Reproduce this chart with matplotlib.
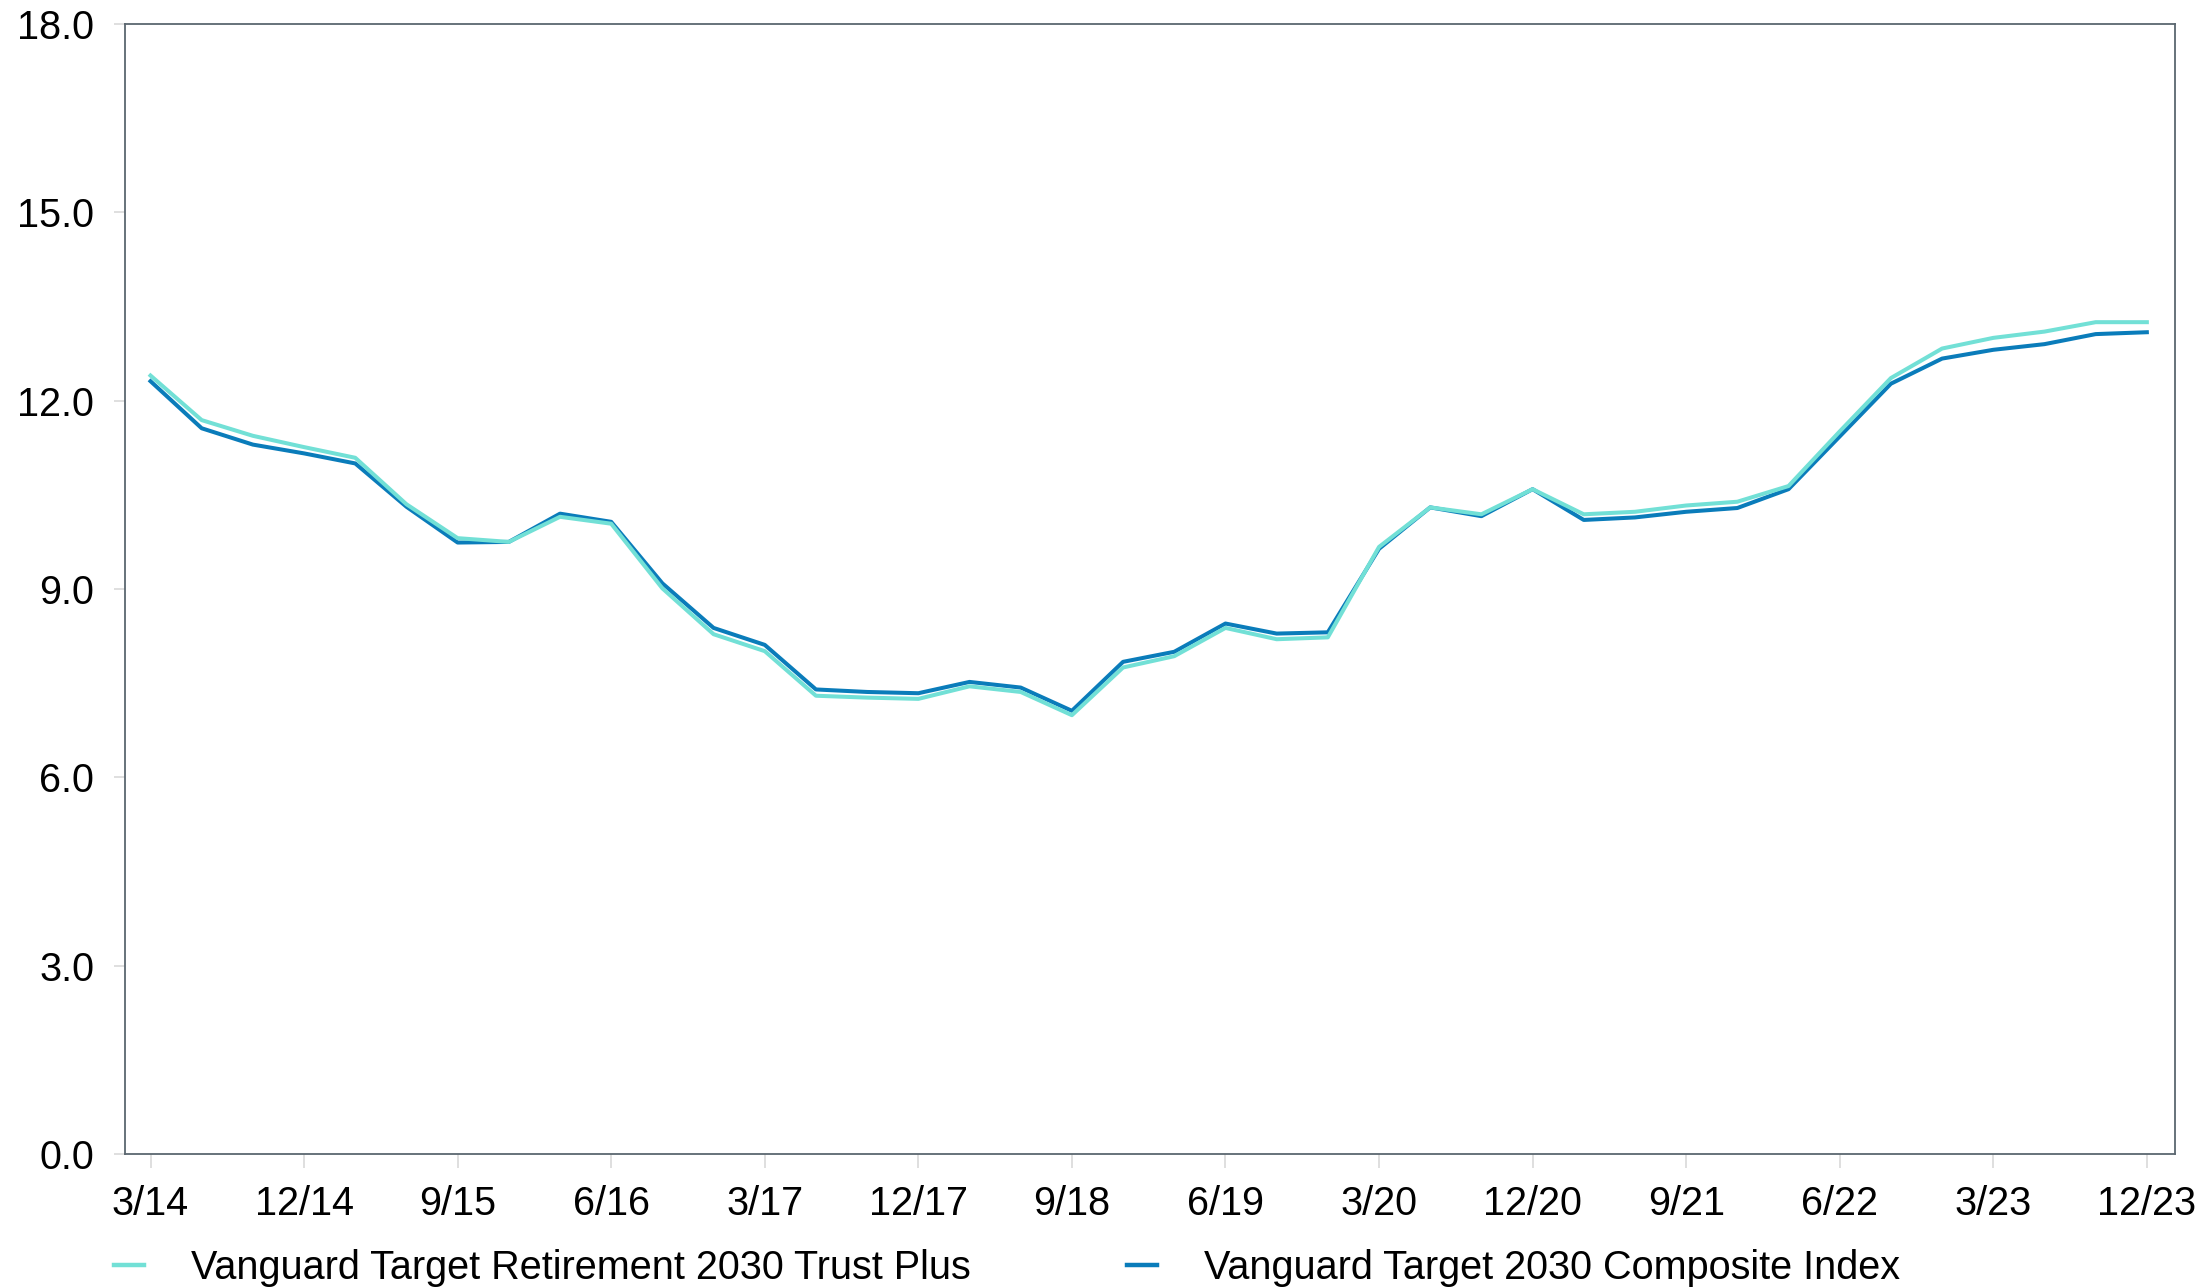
import matplotlib
matplotlib.use("Agg")
import matplotlib.pyplot as plt
import numpy as np

plt.rcParams['font.family'] = ['Liberation Sans', 'DejaVu Sans']

# quarterly, 3/14 .. 12/23
quarters = ['3/14', '6/14', '9/14', '12/14', '3/15', '6/15', '9/15', '12/15',
            '3/16', '6/16', '9/16', '12/16', '3/17', '6/17', '9/17', '12/17',
            '3/18', '6/18', '9/18', '12/18', '3/19', '6/19', '9/19', '12/19',
            '3/20', '6/20', '9/20', '12/20', '3/21', '6/21', '9/21', '12/21',
            '3/22', '6/22', '9/22', '12/22', '3/23', '6/23', '9/23', '12/23']

trust_plus = [12.40, 11.69, 11.44, 11.26, 11.09, 10.35, 9.81, 9.75,
              10.15, 10.04, 9.01, 8.28, 8.01, 7.30, 7.27, 7.25,
              7.45, 7.36, 6.99, 7.75, 7.93, 8.38, 8.20, 8.23,
              9.67, 10.30, 10.19, 10.59, 10.19, 10.23, 10.33, 10.39,
              10.64, 11.51, 12.36, 12.83, 13.00, 13.10, 13.25, 13.25]

composite = [12.31, 11.56, 11.30, 11.16, 11.00, 10.31, 9.74, 9.75,
             10.20, 10.07, 9.09, 8.38, 8.11, 7.40, 7.36, 7.34,
             7.52, 7.43, 7.06, 7.84, 8.00, 8.45, 8.29, 8.31,
             9.64, 10.30, 10.16, 10.59, 10.10, 10.14, 10.23, 10.29,
             10.59, 11.43, 12.27, 12.67, 12.81, 12.90, 13.06, 13.09]

tick_labels = quarters[::3]
y_ticks = [0, 3, 6, 9, 12, 15, 18]

x = np.arange(len(quarters))

fig = plt.figure(figsize=(22.07, 12.88), dpi=100)
ax = fig.add_axes([0.0566, 0.104, 0.9289, 0.8774])

ax.plot(x, composite, color='#0a7cba', lw=2.9, zorder=2,
        label='Vanguard Target 2030 Composite Index')
ax.plot(x, trust_plus, color='#72e0d6', lw=2.9, zorder=3,
        label='Vanguard Target Retirement 2030 Trust Plus')

ax.set_xlim(-0.5, 39.55)
ax.set_ylim(0, 18)
ax.set_xticks(x[::3])
ax.set_xticklabels(tick_labels)
ax.set_yticks(y_ticks)
ax.set_yticklabels([f'{v:.1f}' for v in y_ticks])

for s in ax.spines.values():
    s.set_color('#5b6770')
    s.set_linewidth(1.3)

ax.tick_params(axis='x', length=10, width=1.2, color='#d9d9d9', pad=12, labelsize=28.5)
ax.tick_params(axis='y', length=8, width=1.2, color='#d9d9d9', pad=14, labelsize=28.5)

handles, labels = ax.get_legend_handles_labels()
leg = fig.legend(handles[::-1], labels[::-1], loc='lower left',
                 bbox_to_anchor=(0.0355, -0.027), ncol=2, frameon=False,
                 fontsize=28.5, handlelength=0.75, handletextpad=1.2,
                 columnspacing=3.95)
for line in leg.get_lines():
    line.set_linewidth(3.2)

fig.savefig('out.png', dpi=100)
